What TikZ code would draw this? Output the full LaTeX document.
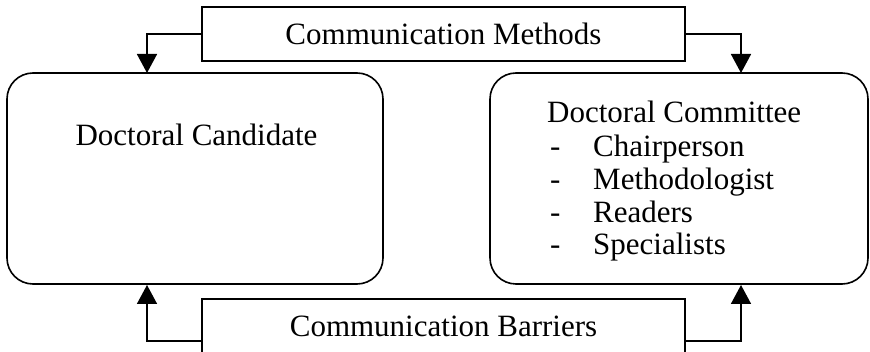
\documentclass[tikz,border=0pt]{standalone}
\usepackage{fontspec}
\setmainfont{Liberation Serif}
\usetikzlibrary{arrows.meta}
\begin{document}
\begin{tikzpicture}[x=1pt,y=-1pt]
\tikzstyle{round-box}=[draw, line width=1.6pt, rounded corners=26pt, inner sep=0pt]
\tikzstyle{label-box}=[draw, line width=1.6pt, fill=white, inner sep=0pt, minimum width=483pt, minimum height=54pt, font=\fontsize{31}{33}\selectfont]
\tikzstyle{box-text}=[inner sep=0pt, font=\fontsize{31}{33}\selectfont]
\tikzstyle{link-edge}=[line width=1.6pt, -{Triangle[width=20pt,length=19pt]}]
\useasboundingbox (0,0) rectangle (870,352);

\node[style=round-box, minimum width=376pt, minimum height=211pt] (cand) at (195,178.5) {};
\node[style=round-box, minimum width=378pt, minimum height=211pt] (comm) at (679,178.5) {};
\node[style=label-box] (meth) at (443.5,34) {Communication Methods};
\node[style=label-box] (barr) at (443.5,326) {Communication Barriers};

\node[style=box-text, anchor=base] (candtext) at (196.5,146) {Doctoral Candidate};
\node[style=box-text, anchor=base west] (commtext) at (547,123) {Doctoral Committee};
\node[style=box-text, anchor=base west] (chair) at (550,157) {\makebox[43pt][l]{-}Chairperson};
\node[style=box-text, anchor=base west] (method) at (550,190) {\makebox[43pt][l]{-}Methodologist};
\node[style=box-text, anchor=base west] (read) at (550,223) {\makebox[43pt][l]{-}Readers};
\node[style=box-text, anchor=base west] (spec) at (550,255) {\makebox[43pt][l]{-}Specialists};

\coordinate (candin) at (147,73);
\coordinate (commin) at (741,73);
\coordinate (candout) at (147,285);
\coordinate (commout) at (741,285);

\draw[style=link-edge] (meth.west) -| (candin);
\draw[style=link-edge] (meth.east) -| (commin);
\draw[style=link-edge] ([yshift=-15pt]barr.west) -| (candout);
\draw[style=link-edge] ([yshift=-15pt]barr.east) -| (commout);

\end{tikzpicture}
\end{document}
